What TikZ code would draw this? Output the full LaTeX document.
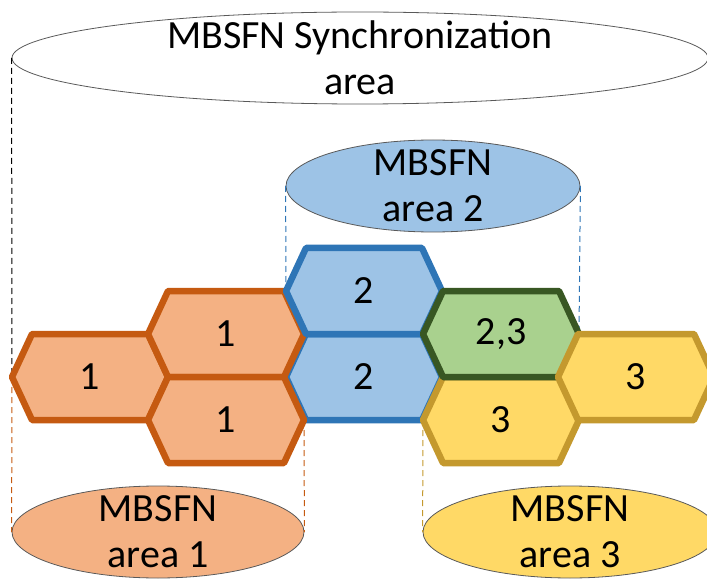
\documentclass[tikz,border=0pt]{standalone}
\usepackage{fontspec}
\setmainfont{Carlito}
\usepackage{tikz}
\usetikzlibrary{shapes.geometric}

\definecolor{orfill}{HTML}{F4B183}
\definecolor{ordraw}{HTML}{C55A11}
\definecolor{blfill}{HTML}{9DC3E6}
\definecolor{bldraw}{HTML}{2E75B6}
\definecolor{grfill}{HTML}{A9D18E}
\definecolor{grdraw}{HTML}{385723}
\definecolor{yefill}{HTML}{FFD966}
\definecolor{yedraw}{RGB}{196,153,46}
\definecolor{rimgray}{HTML}{595959}

\begin{document}
\begin{tikzpicture}[x=1pt,y=-1pt,
  font=\fontsize{40}{46}\selectfont,
  cell/.style={line width=6.5pt,line join=round},
  orcell/.style={cell,fill=orfill,draw=ordraw},
  blcell/.style={cell,fill=blfill,draw=bldraw},
  grcell/.style={cell,fill=grfill,draw=grdraw},
  yecell/.style={cell,fill=yefill,draw=yedraw},
  area/.style={ellipse,draw=rimgray,line width=0.8pt,inner sep=0pt},
  guide/.style={line width=1pt,dash pattern=on 6pt off 4pt}]
\useasboundingbox (0,0) rectangle (707,580);

% cell centres
\coordinate (cL) at (90,377);
\coordinate (cUp1) at (226,334);
\coordinate (cLo1) at (226,420);
\coordinate (cUp2) at (364,291);
\coordinate (cLo2) at (364,377);
\coordinate (cMix) at (501,334);
\coordinate (cLo3) at (501,420);
\coordinate (cR3) at (636,377);

% the areas
\node[area, minimum width=696pt, minimum height=92pt] (sync) at (360,58) {};
\node[area, fill=blfill, minimum width=294pt, minimum height=92pt] (area2) at (433,186) {};
\node[area, fill=orfill, minimum width=292pt, minimum height=92pt] (area1) at (158,532) {};
\node[area, fill=yefill, minimum width=294pt, minimum height=92pt] (area3) at (570,532) {};

% guide lines
\draw[guide, black] (sync.west) -- ([xshift=-78pt]cL);
\draw[guide, bldraw] (area2.west) -- ([xshift=-78pt]cUp2);
\draw[guide, bldraw] (area2.east) -- ([xshift=78pt]cMix);
\draw[guide, ordraw] ([xshift=-78pt]cL) -- (area1.west);
\draw[guide, ordraw] ([xshift=78pt]cLo1) -- (area1.east);
\draw[guide, yedraw] ([xshift=-78pt]cLo3) -- (area3.west);

% cells
\filldraw[blcell] (cLo2) ++(-78,0) -- ++(20,-43) -- ++(116,0) -- ++(20,43) -- ++(-20,43) -- ++(-116,0) -- cycle;
\filldraw[orcell] (cL) ++(-78,0) -- ++(20,-43) -- ++(116,0) -- ++(20,43) -- ++(-20,43) -- ++(-116,0) -- cycle;
\filldraw[orcell] (cUp1) ++(-78,0) -- ++(20,-43) -- ++(116,0) -- ++(20,43) -- ++(-20,43) -- ++(-116,0) -- cycle;
\filldraw[orcell] (cLo1) ++(-78,0) -- ++(20,-43) -- ++(116,0) -- ++(20,43) -- ++(-20,43) -- ++(-116,0) -- cycle;
\filldraw[blcell] (cUp2) ++(-78,0) -- ++(20,-43) -- ++(116,0) -- ++(20,43) -- ++(-20,43) -- ++(-116,0) -- cycle;
\filldraw[yecell] (cLo3) ++(-78,0) -- ++(20,-43) -- ++(116,0) -- ++(20,43) -- ++(-20,43) -- ++(-116,0) -- cycle;
\filldraw[grcell] (cMix) ++(-78,0) -- ++(20,-43) -- ++(116,0) -- ++(20,43) -- ++(-20,43) -- ++(-116,0) -- cycle;
\filldraw[yecell] (cR3) ++(-78,0) -- ++(20,-43) -- ++(116,0) -- ++(20,43) -- ++(-20,43) -- ++(-116,0) -- cycle;

% labels
\node (tL) at (cL) {1};
\node (tUp1) at (cUp1) {1};
\node (tLo1) at (cLo1) {1};
\node (tUp2) at (cUp2) {2};
\node (tLo2) at (cLo2) {2};
\node (tMix) at (cMix) {2,3};
\node (tLo3) at (cLo3) {3};
\node (tR3) at (cR3) {3};
\node[align=center] (tsync) at (sync.center) {MBSFN Synchronization\\area};
\node[align=center] (tarea2) at (area2.center) {MBSFN\\area 2};
\node[align=center] (tarea1) at (area1.center) {MBSFN\\area 1};
\node[align=center] (tarea3) at (area3.center) {MBSFN\\area 3};
\end{tikzpicture}
\end{document}
